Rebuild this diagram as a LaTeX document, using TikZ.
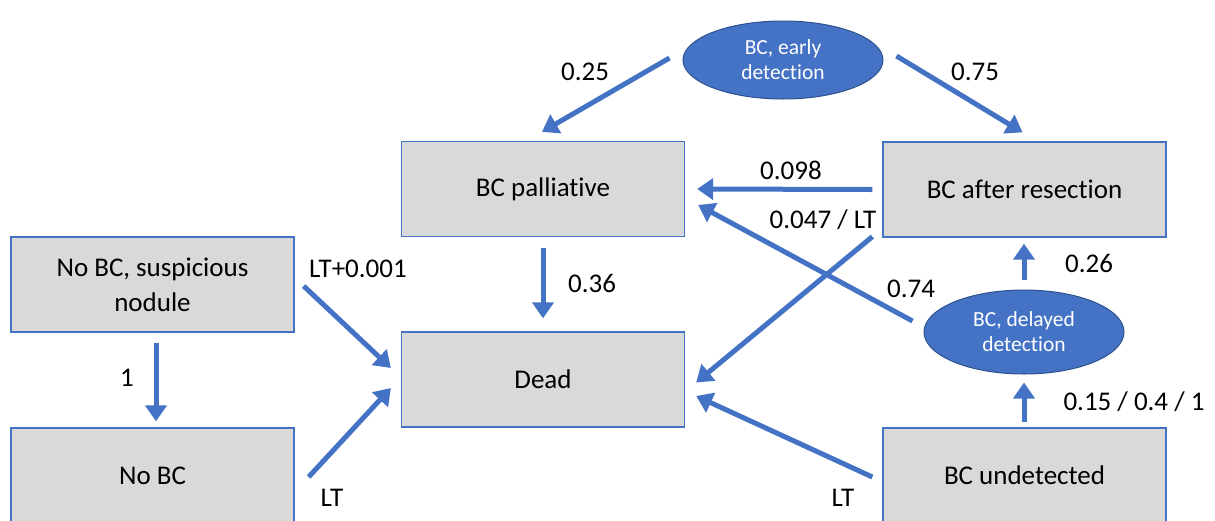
\documentclass[tikz,border=0pt]{standalone}
\usepackage{fontspec}
\setmainfont[Ligatures=NoCommon]{Carlito}
\usetikzlibrary{arrows.meta,calc,shapes.geometric}
\definecolor{arrblue}{HTML}{4472C4}
\definecolor{boxgray}{HTML}{D9D9D9}
\definecolor{ellborder}{HTML}{2F528F}
\tikzset{
  statebox/.style={draw=arrblue, line width=1.3pt, fill=boxgray, rectangle,
    minimum width=283pt, minimum height=95pt, inner sep=0pt, align=center,
    font=\fontsize{27}{35}\selectfont},
  eventell/.style={draw=ellborder, line width=1pt, fill=arrblue, ellipse,
    minimum width=200pt, inner sep=0pt, align=center, text=white,
    font=\fontsize{21.5}{25}\selectfont},
  arr/.style={draw=arrblue, line width=5pt, -{Triangle[length=16pt,width=21pt]}},
  lbl/.style={inner sep=0pt, font=\fontsize{27}{30}\selectfont}
}
\begin{document}
\begin{tikzpicture}[x=1pt,y=-1pt]
\useasboundingbox (0,0) rectangle (1215,520);
\clip (0,0) rectangle (1215,520);
\fill[white] (0,0) rectangle (1215,520);

% nodes
\node[statebox] (nodule) at (152.5,284.5) {No BC, suspicious\\nodule};
\node[statebox] (nobc) at (152.5,475.5) {No BC};
\node[statebox] (pall) at (543,189) {BC palliative};
\node[statebox] (dead) at (543,379.5) {Dead};
\node[statebox] (resec) at (1024.5,189.5) {BC after resection};
\node[statebox] (undet) at (1024.5,475.5) {BC undetected};
\node[eventell, minimum height=78pt] (early) at (783,60) {BC, early\\detection};
\node[eventell, minimum height=84pt] (delayed) at (1024,332) {BC, delayed\\detection};

% connectors
\draw[arr] ($(nodule.east)+(9,1.5)$) -- ($(dead.west)+(-10,-11.5)$);
\draw[arr] ($(nobc.east)+(14,1.5)$) -- ($(dead.west)+(-10,8.5)$);
\draw[arr] ($(nodule.south)+(3.5,10)$) -- ($(nobc.north)+(3.5,-6)$);
\draw[arr] ($(pall.south)+(0,11)$) -- ($(dead.north)+(0,-13)$);
\draw[arr] ($(resec.west)+(-10,0)$) -- ($(pall.east)+(12,0)$);
\draw[arr] ($(resec.south west)+(-10,-1)$) -- ($(dead.east)+(11,3)$);
\draw[arr] ($(delayed.west)+(-11,-11)$) -- ($(pall.east)+(13,16)$);
\draw[arr] ($(delayed.north)+(0,-10)$) -- ($(resec.south)+(-0.5,6)$);
\draw[arr] ($(undet.north)+(-0.5,-5)$) -- ($(delayed.south)+(0,8)$);
\draw[arr] ($(undet.west)+(-10,1.5)$) -- ($(dead.east)+(11,16.5)$);
\draw[arr] ($(early.west)+(-13,-2)$) -- ($(pall.north)+(-1,-9)$);
\draw[arr] ($(early.east)+(13,-4)$) -- ($(resec.north)+(-2,-9)$);

% labels
\node[lbl] (l025) at (585,72) {0.25};
\node[lbl] (l075) at (975,72) {0.75};
\node[lbl] (l098) at (791,170) {0.098};
\node[lbl] (l047) at (823,220) {0.047 / LT};
\node[lbl] (l074) at (911,289) {0.74};
\node[lbl] (l026) at (1089,263) {0.26};
\node[lbl] (l015) at (1134,402) {0.15 / 0.4 / 1};
\node[lbl] (l036) at (592,283) {0.36};
\node[lbl] (llt1) at (358,269) {LT+0.001};
\node[lbl] (l1) at (127,378) {1};
\node[lbl] (llt2) at (332,498) {LT};
\node[lbl] (llt3) at (843,498) {LT};
\end{tikzpicture}
\end{document}
